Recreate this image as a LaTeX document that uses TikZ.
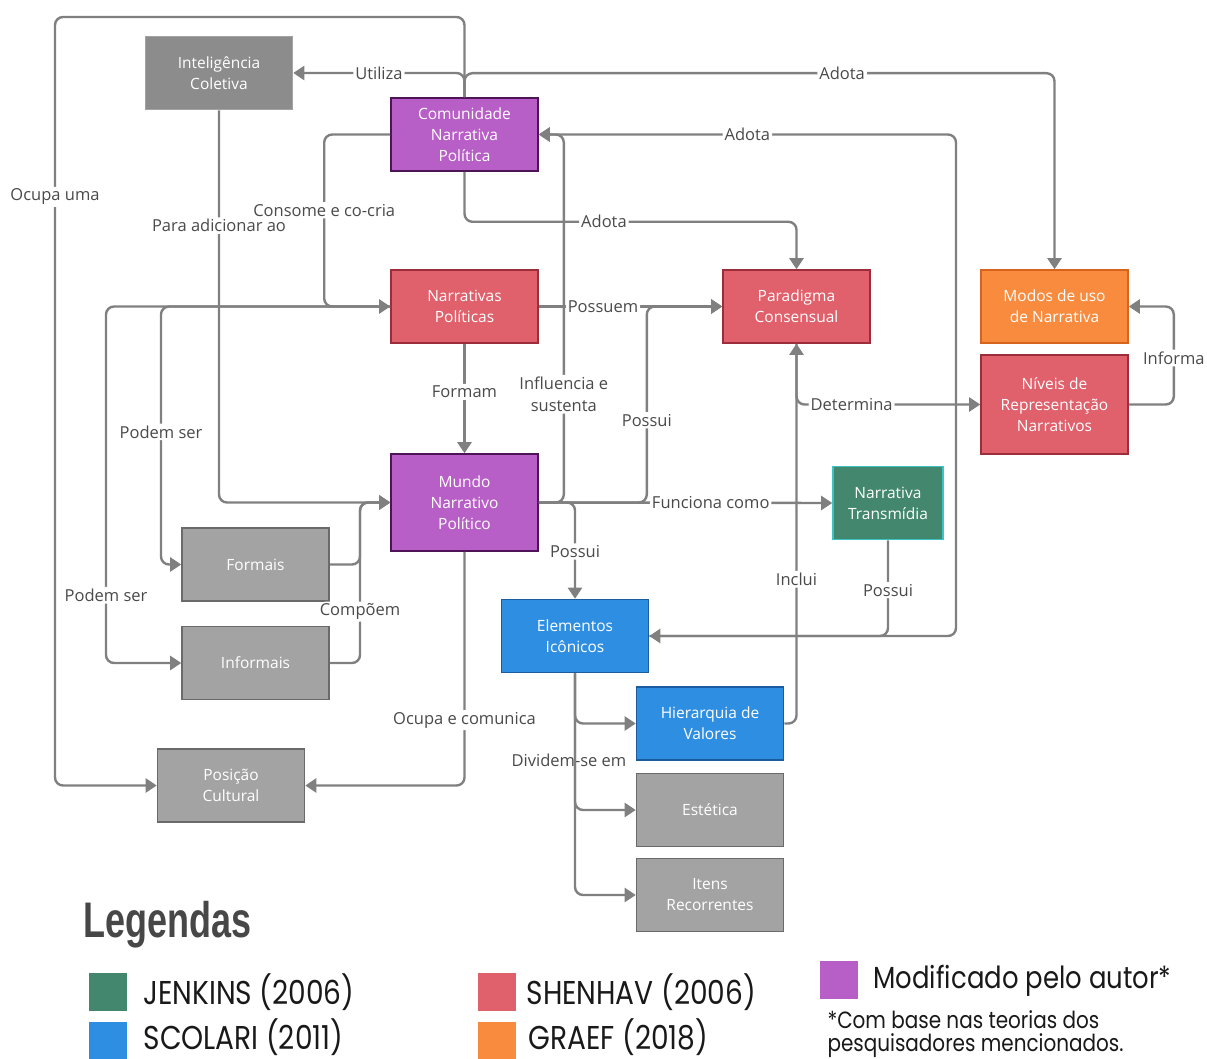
\documentclass[tikz,border=0pt]{standalone}
\usepackage{fontspec}
\setmainfont{Open Sans}
\newfontfamily\legfont{Poppins}[FakeStretch=0.85]
\newfontfamily\titfont{Liberation Sans}
\usetikzlibrary{arrows.meta}
\definecolor{corRoxo}{HTML}{B75FC6}
\definecolor{bordaRoxo}{HTML}{4F1458}
\definecolor{corVerm}{HTML}{E0606B}
\definecolor{bordaVerm}{HTML}{9C2E3C}
\definecolor{corLaranja}{HTML}{F98B3E}
\definecolor{bordaLaranja}{HTML}{D6641C}
\definecolor{corVerde}{HTML}{43876F}
\definecolor{bordaVerde}{HTML}{3CC3C3}
\definecolor{corAzul}{HTML}{2E8FE2}
\definecolor{bordaAzul}{HTML}{1B5C9E}
\definecolor{corCinza}{HTML}{A3A3A3}
\definecolor{bordaCinza}{HTML}{6A6A6A}
\definecolor{corLinha}{HTML}{808080}
\definecolor{corTexto}{HTML}{4A4A4A}
\tikzset{
  caixa/.style={draw, line width=1.6pt, minimum width=147pt, minimum height=73pt,
    inner sep=0pt, align=center, text=white, font=\fontsize{15.5}{21}\selectfont},
  roxo/.style={caixa, fill=corRoxo, draw=bordaRoxo},
  verm/.style={caixa, fill=corVerm, draw=bordaVerm},
  laranja/.style={caixa, fill=corLaranja, draw=bordaLaranja},
  verde/.style={caixa, fill=corVerde, draw=bordaVerde},
  azul/.style={caixa, fill=corAzul, draw=bordaAzul},
  cinza/.style={caixa, fill=corCinza, draw=bordaCinza},
  cinzaesc/.style={caixa, fill=black!45, draw=black!36},
  liga/.style={draw=corLinha, line width=2.4pt, rounded corners=8pt,
    -{Triangle[length=11pt,width=14pt]}},
  rot/.style={fill=white, text=corTexto, inner sep=2pt, align=center,
    font=\fontsize{16.5}{22}\selectfont},
  amostra/.style={minimum size=38pt, inner sep=0pt},
  legtxt/.style={anchor=west, text=black!90, font=\legfont\fontsize{33}{36}\selectfont}
}
\begin{document}
\begin{tikzpicture}[x=1pt,y=-1pt]
\useasboundingbox[fill=white] (0,0) rectangle (1207,1059);
\node[cinzaesc] (ic) at (219,73) {Inteligência\\Coletiva};
\node[roxo] (cnp) at (464.5,134.5) {Comunidade\\Narrativa\\Política};
\node[verm] (np) at (464.5,306.5) {Narrativas\\Políticas};
\node[verm] (pc) at (796.5,306.5) {Paradigma\\Consensual};
\node[laranja] (mun) at (1054.5,306.5) {Modos de uso\\de Narrativa};
\node[verm, minimum height=99pt] (nrn) at (1054.5,404.5) {Níveis de\\Representação\\Narrativos};
\node[roxo, minimum height=97pt] (mnp) at (464.5,502.5) {Mundo\\Narrativo\\Político};
\node[verde, minimum width=110pt] (nt) at (888,503) {Narrativa\\Transmídia};
\node[cinza] (fo) at (255.5,564.5) {Formais};
\node[cinza] (inf) at (255.5,663) {Informais};
\node[azul] (ei) at (575,636) {Elementos\\Icônicos};
\node[azul] (hv) at (710,723.5) {Hierarquia de\\Valores};
\node[cinza] (pcu) at (231,785.5) {Posição\\Cultural};
\node[cinza] (es) at (710,810) {Estética};
\node[cinza] (ir) at (710,895) {Itens\\Recorrentes};

\draw[liga] (cnp.north) |- (55,17) |- node[rot,pos=0.117]{Ocupa uma} (pcu.west);
\draw[liga] (cnp.north) |- node[rot,pos=0.75]{Utiliza} (ic.east);
\draw[liga] (cnp.north) -- ++(0,-24) -| node[rot,pos=0.32]{Adota} (mun.north);
\draw[liga] (ei.east) -| (956,134.5) -- node[rot]{Adota} (cnp.east);
\draw[liga] (cnp.south) -- ++(0,50) -| node[rot,pos=0.21]{Adota} (pc.north);
\draw[liga] (cnp.west) -- ++(-66,0) |- node[rot,pos=0.22]{Consome e co-cria} (np.west);
\draw[liga] (ic.south) |- node[rot,pos=0.147]{Para adicionar ao} (mnp.west);
\draw[liga] (np.east) -- node[rot,pos=0.35]{Possuem} (pc.west);
\draw[liga] (np) -- node[rot,pos=0.44]{Formam} (mnp);
\draw[liga] (mnp.east) -- ++(25,0) |- node[rot,pos=0.147]{Influencia e\\sustenta} (cnp.east);
\draw[liga] (mnp.east) -- ++(108,0) |- node[rot,pos=0.21]{Possui} (pc.west);
\draw[liga] (mnp.east) -- node[rot,pos=0.586]{Funciona como} (nt.west);
\draw[liga] (mnp.east) -| node[rot,pos=0.755]{Possui} (ei.north);
\draw[liga] (pc.south) |- node[rot,pos=0.65]{Determina} (nrn.west);
\draw[liga] (hv.east) -| node[rot,pos=0.69]{Inclui} (pc.south);
\draw[liga] (nrn.east) -- ++(45,0) |- node[rot,pos=0.237]{Informa} (mun.east);
\draw[liga] (nt.south) |- node[rot,pos=0.26]{Possui} (ei.east);
\draw[liga] (np.west) -- (161,306.5) |- node[rot,pos=0.243]{Podem ser} (fo.west);
\draw[liga] (np.west) -- (106,306.5) |- node[rot,pos=0.405]{Podem ser} (inf.west);
\draw[liga] (fo.east) -- (360,564.5) |- (mnp.west);
\draw[liga] (inf.east) -- (360,663) |- node[rot,pos=0.16]{Compõem} (mnp.west);
\draw[liga] (mnp.south) |- node[rot,pos=0.36]{Ocupa e comunica} (pcu.east);
\draw[liga] (ei.south) |- (hv.west);
\draw[liga] (ei.south) |- node[rot,fill=none,pos=0.32,xshift=-6pt]{Dividem-se em} (es.west);
\draw[liga] (ei.south) |- (ir.west);

\node[anchor=west, text=black!72, font=\titfont\bfseries\fontsize{50}{50}\selectfont] (leg) at (80,925) {\scalebox{0.72}[1]{Legendas}};
\node[amostra, fill=corVerde] (aj) at (107.5,992) {};
\node[legtxt] (tj) at (140,992) {JENKINS (2006)};
\node[amostra, fill=corAzul] (as) at (107.5,1041) {};
\node[legtxt] (ts) at (140,1037) {SCOLARI (2011)};
\node[amostra, fill=corVerm] (ash) at (496.5,992) {};
\node[legtxt] (tsh) at (523,992) {SHENHAV (2006)};
\node[amostra, fill=corLaranja] (ag) at (496.5,1041) {};
\node[legtxt] (tg) at (525,1037) {GRAEF (2018)};
\node[amostra, fill=corRoxo] (am) at (839,980) {};
\node[legtxt, font=\legfont\fontsize{30.5}{32}\selectfont] (tm) at (870,981) {Modificado pelo autor*};
\node[legtxt, font=\legfont\fontsize{23.5}{26}\selectfont] (tn1) at (824,1020) {*Com base nas teorias dos};
\node[legtxt, font=\legfont\fontsize{23.5}{26}\selectfont] (tn2) at (824,1046) {pesquisadores mencionados.};
\end{tikzpicture}
\end{document}
